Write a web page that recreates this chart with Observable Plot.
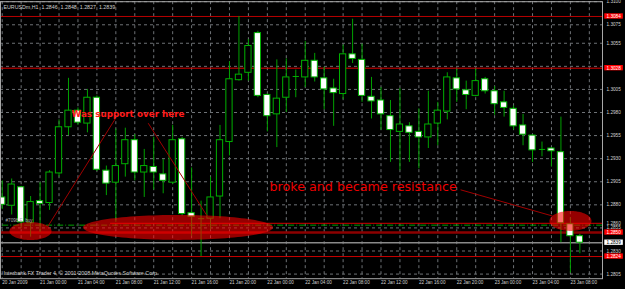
<!DOCTYPE html>
<html><head><meta charset="utf-8">
<script src="https://cdn.jsdelivr.net/npm/d3@7"></script>
<script src="https://cdn.jsdelivr.net/npm/@observablehq/plot@0.6"></script>
<style>html,body{margin:0;padding:0;background:#000;overflow:hidden}#chart svg{display:block}</style>
</head><body><div id="chart"></div>
<script>
// ---- Data (EURUSD H1, 20 Jan 20:00 .. 23 Jan 09:00) ----
const opens  = [1.2888,1.2879,1.2899,1.2860,1.2884,1.2882,1.2914,1.2964,1.2982,1.2968,1.2996,1.2917,1.2904,1.2924,1.2950,1.2915,1.2921,1.2913,1.2904,1.2951,1.2871,1.2865,1.2865,1.2889,1.2948,1.3015,1.3023,1.3066,1.2999,1.2978,1.2996,1.3019,1.3018,1.3036,1.3017,1.3006,1.3000,1.3043,1.3037,1.2997,1.2993,1.2976,1.2959,1.2965,1.2959,1.2953,1.2968,1.2981,1.3017,1.3004,1.2998,1.3016,1.3003,1.2991,1.2984,1.2966,1.2955,1.2940,1.2941,1.2937,1.2859,1.2846];
const highs  = [1.2906,1.2908,1.2900,1.2889,1.2904,1.2917,1.2972,1.3017,1.2985,1.3005,1.2998,1.2922,1.2962,1.2963,1.2956,1.2940,1.2953,1.2929,1.2966,1.2953,1.2920,1.2884,1.2910,1.2966,1.3035,1.3084,1.3059,1.3068,1.3000,1.3037,1.3038,1.3026,1.3057,1.3044,1.3029,1.3016,1.3053,1.3081,1.3054,1.3018,1.3007,1.2993,1.3006,1.2969,1.2984,1.3003,1.2991,1.3023,1.3027,1.3014,1.3027,1.3018,1.3008,1.3003,1.2987,1.2978,1.2956,1.2948,1.2942,1.2975,1.2866,1.2848];
const lows   = [1.2875,1.2869,1.2854,1.2845,1.2850,1.2874,1.2910,1.2955,1.2966,1.2958,1.2916,1.2890,1.2861,1.2910,1.2906,1.2888,1.2896,1.2892,1.2902,1.2868,1.2846,1.2824,1.2853,1.2865,1.2933,1.3014,1.3014,1.2996,1.2959,1.2942,1.2980,1.2996,1.3007,1.3013,1.2983,1.2965,1.2994,1.3033,1.2991,1.2973,1.2961,1.2926,1.2917,1.2926,1.2919,1.2941,1.2944,1.2972,1.2991,1.2983,1.2997,1.3000,1.2977,1.2975,1.2961,1.2944,1.2926,1.2932,1.2921,1.2839,1.2806,1.2827];
const closes = [1.2880,1.2902,1.2861,1.2883,1.2881,1.2915,1.2964,1.2982,1.2969,1.2996,1.2918,1.2903,1.2922,1.2950,1.2915,1.2922,1.2915,1.2906,1.2950,1.2870,1.2867,1.2865,1.2888,1.2950,1.3016,1.3021,1.3052,1.2998,1.2976,1.2995,1.3018,1.3019,1.3036,1.3018,1.3005,1.3001,1.3043,1.3038,1.2998,1.2992,1.2978,1.2961,1.2967,1.2958,1.2953,1.2967,1.2982,1.3018,1.3005,1.2999,1.3014,1.3003,1.2989,1.2985,1.2965,1.2956,1.2939,1.2940,1.2938,1.2860,1.2846,1.2839];

const xLabelIdx = [0,4,8,12,16,20,24,28,32,36,40,44,48,52,56,60];
const xLabels = ["20 Jan 2009","21 Jan 00:00","21 Jan 04:00","21 Jan 08:00","21 Jan 12:00","21 Jan 16:00","21 Jan 20:00","22 Jan 00:00","22 Jan 04:00","22 Jan 08:00","22 Jan 12:00","22 Jan 16:00","22 Jan 20:00","23 Jan 00:00","23 Jan 04:00","23 Jan 08:00"];
const yTickVals = [1.3100,1.3075,1.3055,1.3005,1.2980,1.2955,1.2930,1.2905,1.2880,1.2860,1.2855,1.2830,1.2805];
const yGridVals = [1.3100,1.3075,1.3055,1.3030,1.3005,1.2980,1.2955,1.2930,1.2905,1.2880,1.2855,1.2830,1.2805];

// horizontal levels
const levelPrices = [1.3084,1.3028,1.2860,1.2850,1.2824];
const levelColors = ["#b80000","#e00000","#d00000","#8c0000","#c80000"];
const levelWidths = [1,1,1,2.5,1];
const levelStart  = [null,null,11.44,null,null];
const boxPrices = [1.3084,1.3028,1.2850,1.2839,1.2824];
const boxFills  = ["#ff0000","#ff0000","#ff0000","#ffffff","#ff0000"];
const boxText   = ["#ffffff","#ffffff","#ffffff","#000000","#ffffff"];
const orderPrice = 1.2858;
const bidPrice = 1.2839;

// annotations
const ellCx = [3.04,18.62,60.06], ellCy = [1.2851,1.2855,1.2862], ellRx = [2.22,10.03,2.22], ellRy = [0.00097,0.00135,0.00108];
const trendX1 = [4.68,15.42,48.4], trendY1 = [1.28543,1.29684,1.28963], trendX2 = [11.96,21.68,58.11], trendY2 = [1.29735,1.28673,1.28679];

const xMin = -0.18, xMax = 63.39;
const bars = opens.map((o,i)=>({i, o, h: highs[i], l: lows[i], c: closes[i]}));
const bodies = bars.filter(b => Math.abs(b.o-b.c) >= 0.00005);
const dojis = bars.filter(b => Math.abs(b.o-b.c) < 0.00005);
const levels = levelPrices.map((p,j)=>({p, col: levelColors[j], w: levelWidths[j], s: levelStart[j] ?? xMin}));
const boxes = boxPrices.map((p,j)=>({p, f: boxFills[j], t: boxText[j]}));
const ellPts = ellCx.flatMap((cx,j)=> d3.range(0,61).map(s=>{const t=-Math.cos(Math.PI*s/60); const h=ellRy[j]*Math.sqrt(Math.max(0,1-t*t)); return {id:j, x: cx+t*ellRx[j], y1: ellCy[j]-h, y2: ellCy[j]+h};}));
const trends = trendX1.map((x,j)=>({x1:x, y1:trendY1[j], x2:trendX2[j], y2:trendY2[j]}));
const grid = d3.range(0, 63, 2);
const green = "#00b000", wick = "#00a000", gridCol = "#6e7276", txt = "#d0d0d0";
const F = "Liberation Sans, Arial, sans-serif";

const chart = Plot.plot({
  width: 625, height: 289,
  marginLeft: 0, marginRight: 23, marginTop: 1.2, marginBottom: 10.8,
  style: {background: "#000"},
  x: {domain: [xMin, xMax], axis: null},
  y: {domain: [1.2800, 1.3100], axis: null},
  marks: [
    Plot.ruleX(grid, {x: d=>d, stroke: gridCol, strokeDasharray: "3,3"}),
    Plot.ruleY(yGridVals, {y: d=>d, stroke: gridCol, strokeDasharray: "3,3"}),
    Plot.ruleY(levels, {y: "p", x1: "s", x2: xMax, stroke: d=>d.col, strokeWidth: d=>d.w}),
    Plot.ruleY([orderPrice], {y: d=>d, x1: 0.05, x2: xMax, stroke: "#00a000", strokeDasharray: "6,2,1,2"}),
    Plot.ruleY([bidPrice], {y: d=>d, stroke: "#8a8a8a", strokeWidth: 1.5}),
    Plot.ruleX(bars, {x: "i", y1: "l", y2: "h", stroke: wick}),
    Plot.rect(bodies, {x1: d=>d.i-0.33, x2: d=>d.i+0.33, y1: "o", y2: "c", fill: d=>d.c<d.o?"#ffffff":"#000000", stroke: green}),
    Plot.link(dojis, {x1: d=>d.i-0.33, x2: d=>d.i+0.33, y1: "o", y2: "o", stroke: green}),
    Plot.areaY(ellPts, {x: "x", y1: "y1", y2: "y2", z: "id", fill: "#ff0000", fillOpacity: 0.58}),
    Plot.link(trends, {x1: "x1", y1: "y1", x2: "x2", y2: "y2", stroke: "#a00000", strokeWidth: 1}),
    Plot.text(["Was support over here"], {x: 7.32, y: 1.29784, textAnchor: "start", fill: "#ff1a1a", fontSize: 8.8, fontWeight: "bold", fontFamily: "DejaVu Sans"}),
    Plot.text(["broke and became resistance"], {x: 28.23, y: 1.28998, textAnchor: "start", fill: "#ee0000", fontSize: 12.7, fontFamily: "DejaVu Sans"}),
    Plot.text(["#7098 E\u00a0\u00a0buy"], {x: 0.35, y: 1.2863, textAnchor: "start", fill: "#b0b0b0", fontSize: 4.6, fontFamily: F}),
    Plot.text(["EURUSDm,H1\u00a0\u00a01.2846\u00a0\u00a01.2848\u00a0\u00a01.2827\u00a0\u00a01.2839"], {frameAnchor: "top-left", dx: 3, dy: 3.5, fill: txt, fontSize: 5.3, fontFamily: F}),
    Plot.text(["Interbank FX Trader 4, \u00a9 2001-2008 MetaQuotes Software Corp."], {frameAnchor: "bottom-left", dx: 3, dy: -3.5, fill: txt, fontSize: 5.4, fontFamily: F}),
    Plot.frame({stroke: "#a8a8a8"}),
    Plot.text(yTickVals, {y: d=>d, text: d=>d.toFixed(4), frameAnchor: "right", textAnchor: "start", dx: 4, fill: txt, fontSize: 4.7, fontFamily: F}),
    Plot.rect(boxes, {x1: xMax+0.24, x2: xMax+2.2, y1: d=>d.p-0.00029, y2: d=>d.p+0.00029, fill: "f"}),
    Plot.text(boxes, {y: "p", text: d=>d.p.toFixed(4), frameAnchor: "right", textAnchor: "start", dx: 4, fill: "t", fontSize: 4.7, fontFamily: F}),
    Plot.text(xLabelIdx, {x: d=>d, text: (d,i)=>xLabels[i], frameAnchor: "bottom", textAnchor: "start", dy: 5.5, fill: txt, fontSize: 4.6, fontFamily: F})
  ]
});
document.getElementById("chart").appendChild(chart);
</script>
</body></html>
